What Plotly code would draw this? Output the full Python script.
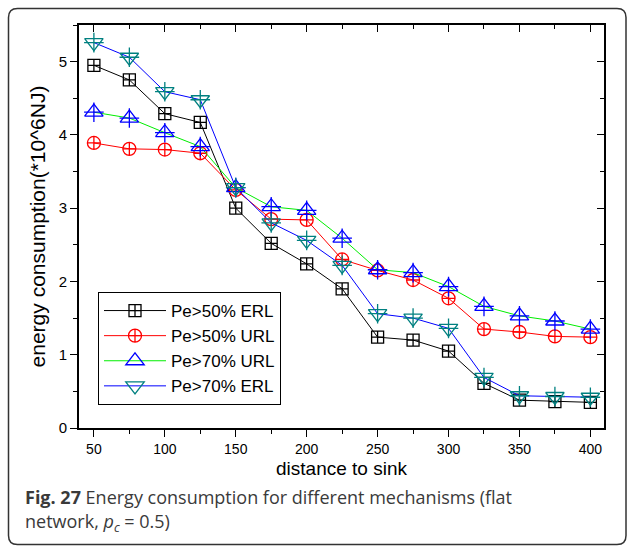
import plotly.graph_objects as go

# ---------------- data ----------------
distance = [50, 75, 100, 125, 150, 175, 200, 225, 250, 275, 300, 325, 350, 375, 400]
pe50_erl = [4.95, 4.75, 4.29, 4.17, 3.00, 2.52, 2.24, 1.90, 1.24, 1.20, 1.05, 0.61, 0.38, 0.36, 0.35]
pe50_url = [3.89, 3.81, 3.80, 3.75, 3.25, 2.85, 2.84, 2.30, 2.15, 2.02, 1.77, 1.35, 1.31, 1.25, 1.24]
pe70_url = [4.31, 4.23, 4.03, 3.84, 3.28, 3.02, 2.97, 2.59, 2.16, 2.12, 1.93, 1.66, 1.53, 1.46, 1.35]
pe70_erl = [5.26, 5.06, 4.59, 4.48, 3.28, 2.80, 2.56, 2.22, 1.56, 1.50, 1.36, 0.69, 0.44, 0.43, 0.42]

series_names = ["Pe>50% ERL", "Pe>50% URL", "Pe>70% URL", "Pe>70% ERL"]
x_title = "distance to sink"
y_title = "energy consumption(*10^6NJ)"
caption_1 = "<b>Fig. 27</b> Energy consumption for different mechanisms (flat"
caption_2 = "network, <i>p</i><sub><i>c</i></sub> = 0.5)"

# ---------------- layout geometry (pixels) ----------------
W, H = 627, 546
L, R, T, B = 79, 604, 25, 428


def px(x):
    return (x - L) / (R - L)


def py(y):
    return (B - y) / (B - T)


AX_FONT = "Liberation Sans, Arial, sans-serif"

fig = go.Figure()

specs = [
    (pe50_erl, series_names[0], "black", "black", "square-cross-open", 12, None),
    (pe50_url, series_names[1], "#ff0000", "#ff0000", "circle-cross-open", 13, None),
    (pe70_url, series_names[2], "#00ee00", "#0000ff", "triangle-up-open", 16, "cross-thin-open"),
    (pe70_erl, series_names[3], "#0000ff", "#008080", "triangle-down-open", 16, "cross-thin-open"),
]

for yvals, name, lcol, mcol, sym, size, overlay in specs:
    fig.add_trace(go.Scatter(
        x=distance, y=yvals, name=name, mode="lines+markers",
        line=dict(color=lcol, width=1),
        marker=dict(symbol=sym, size=size, color=mcol,
                    line=dict(color=mcol, width=1.3)),
    ))
    if overlay:
        fig.add_trace(go.Scatter(
            x=distance, y=yvals, mode="markers", showlegend=False,
            hoverinfo="skip",
            marker=dict(symbol=overlay, size=14, color=mcol,
                        line=dict(color=mcol, width=1.3)),
        ))

# invisible trace to activate the mirrored (top/right) axes
fig.add_trace(go.Scatter(x=distance, y=pe50_erl, xaxis="x2", yaxis="y2",
                         mode="lines", line=dict(width=0), opacity=0,
                         showlegend=False, hoverinfo="skip"))

xr = [39.5, 409.6]
yr = [0, 5.5]

common_x = dict(range=xr, showgrid=False, zeroline=False, showline=True,
                linecolor="black", linewidth=1.6, tickcolor="black",
                tickwidth=1.3, ticklen=7, dtick=50, tick0=0)
common_y = dict(range=yr, showgrid=False, zeroline=False, showline=True,
                linecolor="black", linewidth=1.6, tickcolor="black",
                tickwidth=1.3, ticklen=7, dtick=1, tick0=0)

fig.update_layout(
    width=W, height=H,
    margin=dict(l=L, r=W - R, t=T, b=H - B, pad=0),
    paper_bgcolor="white", plot_bgcolor="white",
    xaxis=dict(**common_x, ticks="outside",
               minor=dict(dtick=25, ticks="outside", ticklen=4,
                          tickcolor="black", tickwidth=1.3),
               tickfont=dict(family=AX_FONT, size=14, color="black"),
               title=dict(text=x_title, standoff=6,
                          font=dict(family=AX_FONT, size=19, color="black"))),
    yaxis=dict(**common_y, ticks="outside",
               minor=dict(dtick=0.5, ticks="outside", ticklen=4,
                          tickcolor="black", tickwidth=1.3),
               tickfont=dict(family=AX_FONT, size=15, color="black"),
               title=dict(text=y_title, standoff=8,
                          font=dict(family=AX_FONT, size=21, color="black"))),
    xaxis2=dict(**common_x, overlaying="x", side="top", ticks="inside",
                showticklabels=False,
                minor=dict(dtick=25, ticks="inside", ticklen=4,
                           tickcolor="black", tickwidth=1.3)),
    yaxis2=dict(**common_y, overlaying="y", side="right", ticks="inside",
                showticklabels=False,
                minor=dict(dtick=0.5, ticks="inside", ticklen=4,
                           tickcolor="black", tickwidth=1.3)),
    legend=dict(x=px(98), y=py(292), xanchor="left", yanchor="top",
                bgcolor="white", bordercolor="black", borderwidth=1,
                font=dict(family=AX_FONT, size=17, color="black"),
                tracegroupgap=0, itemwidth=62),
    showlegend=True,
)

# caption
cap_font = dict(family="Open Sans, sans-serif", size=18, color="#3a3a3a")
fig.add_annotation(text=caption_1, xref="paper", yref="paper",
                   x=px(23), y=py(497), xanchor="left", yanchor="middle",
                   showarrow=False, font=cap_font)
fig.add_annotation(text=caption_2, xref="paper", yref="paper",
                   x=px(23), y=py(522), xanchor="left", yanchor="middle",
                   showarrow=False, font=cap_font)

# rounded outer frame
x0, y0, x1, y1, r = 8.5, 8.5, 626, 544.5, 9
path = (f"M {px(x0 + r)},{py(y0)} L {px(x1 - r)},{py(y0)} "
        f"Q {px(x1)},{py(y0)} {px(x1)},{py(y0 + r)} "
        f"L {px(x1)},{py(y1 - r)} Q {px(x1)},{py(y1)} {px(x1 - r)},{py(y1)} "
        f"L {px(x0 + r)},{py(y1)} Q {px(x0)},{py(y1)} {px(x0)},{py(y1 - r)} "
        f"L {px(x0)},{py(y0 + r)} Q {px(x0)},{py(y0)} {px(x0 + r)},{py(y0)} Z")
fig.add_shape(type="path", path=path, xref="paper", yref="paper",
              line=dict(color="#333333", width=1.5), layer="below")

fig.write_html("out.html")
